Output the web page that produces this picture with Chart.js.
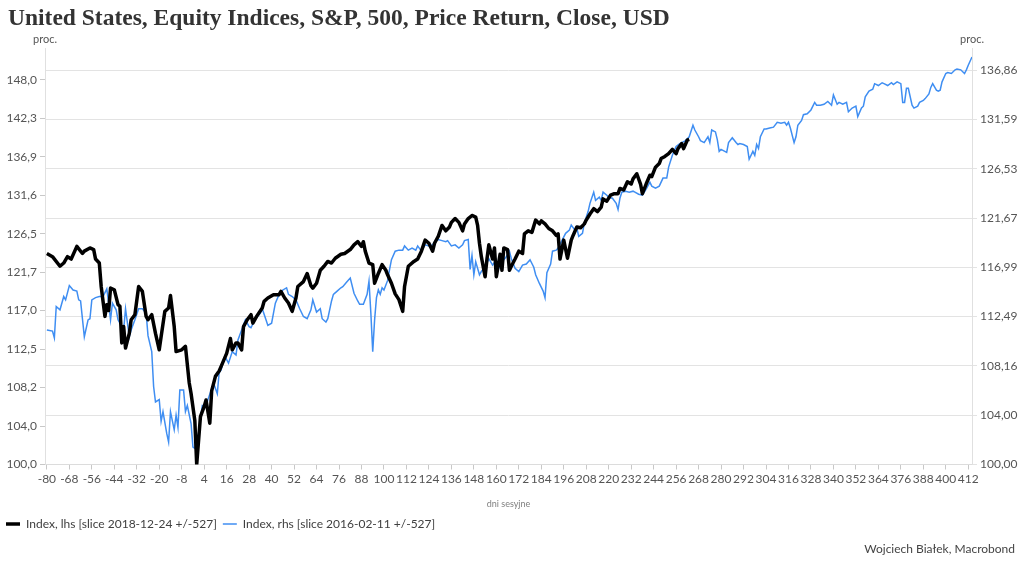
<!DOCTYPE html>
<html>
<head>
<meta charset="utf-8">
<script src="https://cdn.jsdelivr.net/npm/chart.js@4.4.1/dist/chart.umd.min.js"></script>
<style>
  html, body { margin: 0; padding: 0; background: #fff; }
  canvas { display: block; }
</style>
</head>
<body>
<canvas id="spxChart" width="1024" height="565"></canvas>
<script>
// Trading days around the slice date (x) and index values
const lhsDays = [
  -80, -77, -73, -71, -69, -67, -64, -61, -60, -57,
  -55, -54, -52, -51, -49, -48, -47, -46, -44, -42,
  -41, -40, -39, -38, -36, -35, -33, -31, -29, -27,
  -26, -24, -22, -20, -19, -17, -15, -14, -12, -11,
  -8, -6, -4, -3, -1, 0, 2, 4, 5, 7,
  8, 10, 12, 13, 16, 18, 19, 21, 22, 24,
  25, 27, 29, 30, 32, 35, 36, 38, 41, 44,
  45, 47, 49, 51, 53, 54, 57, 59, 61, 62,
  64, 66, 68, 70, 72, 74, 77, 79, 82, 84,
  86, 88, 89, 90, 92, 94, 95, 97, 99, 101,
  102, 104, 106, 108, 110, 111, 113, 116, 118, 120,
  122, 124, 126, 127, 129, 131, 133, 135, 136, 138,
  140, 142, 143, 145, 147, 149, 150, 151, 152, 154,
  155, 156, 158, 159, 160, 162, 163, 164, 166, 167,
  168, 170, 172, 174, 175, 177, 179, 181, 183, 184,
  186, 188, 190, 192, 193, 194, 196, 198, 200, 201,
  203, 205, 207, 208, 210, 212, 214, 216, 217, 219,
  221, 223, 225, 226, 228, 230, 232, 233, 235, 237,
  238, 240, 242, 243, 245, 247, 248, 250, 252, 254,
  256, 257, 259, 260, 262, 263
];
const lhsValues = [
  124.0, 123.6, 122.4, 122.8, 123.6, 123.3, 124.9, 124.0, 124.3, 124.7,
  124.5, 123.3, 122.8, 119.9, 116.3, 117.7, 117.0, 119.7, 119.5, 117.7,
  117.5, 113.2, 115.1, 112.6, 114.3, 115.9, 116.5, 119.9, 119.3, 116.3,
  115.9, 116.5, 114.3, 112.4, 113.9, 116.9, 117.3, 118.8, 115.1, 112.2,
  112.4, 112.8, 108.7, 107.5, 104.6, 100.0, 105.0, 106.1, 106.8, 104.3,
  107.8, 109.4, 110.0, 110.5, 112.0, 113.7, 112.4, 113.2, 113.2, 112.4,
  115.1, 115.9, 116.5, 115.5, 116.3, 117.3, 118.1, 118.5, 118.9, 118.9,
  119.3, 118.5, 117.9, 116.9, 118.5, 119.9, 120.5, 121.5, 120.0, 119.7,
  120.3, 121.9, 122.4, 123.0, 122.8, 123.4, 123.9, 124.0, 124.5, 125.1,
  125.5, 124.9, 125.5, 124.3, 122.8, 122.6, 120.3, 121.5, 122.6, 121.9,
  121.3, 120.3, 119.0, 118.3, 116.9, 119.9, 122.4, 123.0, 123.3, 124.3,
  125.7, 125.3, 124.3, 125.3, 126.2, 127.6, 126.9, 127.4, 128.0, 128.5,
  128.0, 126.9, 127.8, 128.5, 128.9, 128.7, 127.6, 125.3, 123.6, 121.1,
  123.3, 125.1, 123.3, 124.7, 121.1, 123.9, 121.9, 124.7, 124.5, 121.9,
  122.4, 123.3, 124.3, 124.0, 126.5, 126.9, 126.7, 128.3, 127.8, 128.2,
  127.8, 127.2, 126.9, 126.3, 126.5, 123.3, 125.7, 123.4, 125.7, 126.3,
  127.4, 127.3, 127.8, 128.3, 129.1, 129.8, 129.4, 130.0, 131.1, 130.8,
  131.6, 131.8, 131.8, 132.5, 132.3, 133.4, 133.1, 133.8, 134.5, 133.1,
  131.8, 133.1, 134.3, 134.1, 135.4, 135.9, 136.6, 136.9, 137.3, 137.9,
  137.3, 138.0, 138.7, 138.0, 139.2, 139.3
];

const rhsDays = [
  -80, -77, -76, -75, -73, -71, -70, -68, -66, -64,
  -63, -62, -60, -58, -57, -56, -54, -52, -50, -48,
  -47, -46, -45, -43, -42, -39, -38, -36, -35, -33,
  -31, -29, -27, -26, -24, -23, -22, -20, -19, -18,
  -16, -15, -14, -12, -11, -10, -9, -7, -6, -5,
  -3, -2, -1, 1, 3, 5, 6, 9, 11, 12,
  13, 15, 17, 19, 21, 22, 24, 26, 28, 29,
  31, 34, 35, 37, 38, 40, 42, 44, 46, 48,
  49, 51, 53, 55, 57, 59, 61, 62, 64, 66,
  67, 69, 70, 72, 73, 75, 77, 78, 80, 82,
  84, 86, 87, 89, 91, 92, 93, 94, 95, 96,
  97, 98, 99, 100, 102, 103, 104, 106, 108, 110,
  111, 113, 115, 117, 118, 120, 122, 124, 126, 127,
  129, 131, 133, 134, 136, 138, 140, 142, 143, 145,
  146, 147, 148, 149, 151, 152, 154, 156, 158, 160,
  161, 163, 165, 167, 168, 170, 172, 174, 176, 178,
  180, 181, 183, 185, 186, 187, 189, 190, 192, 193,
  195, 197, 199, 200, 202, 203, 204, 206, 207, 209,
  210, 212, 213, 215, 216, 217, 219, 220, 222, 224,
  225, 226, 227, 229, 231, 233, 234, 236, 238, 240,
  242, 243, 245, 247, 249, 251, 252, 254, 256, 258,
  259, 261, 263, 265, 266, 268, 269, 271, 273, 274,
  275, 277, 278, 279, 280, 282, 283, 284, 286, 288,
  289, 290, 292, 294, 295, 297, 298, 299, 300, 301,
  303, 304, 306, 308, 310, 312, 314, 315, 316, 317,
  319, 320, 321, 323, 324, 326, 328, 330, 331, 333,
  335, 337, 339, 340, 342, 343, 345, 347, 348, 350,
  352, 353, 355, 356, 357, 359, 361, 362, 364, 366,
  367, 369, 371, 372, 374, 376, 377, 378, 379, 380,
  382, 383, 385, 386, 388, 389, 391, 392, 393, 395,
  396, 397, 398, 400, 401, 403, 405, 406, 408, 410,
  411, 412, 414
];
const rhsValues = [
  111.3, 111.2, 110.6, 113.4, 113.1, 114.3, 114.0, 115.3, 114.9, 114.8,
  114.0, 113.9, 110.7, 112.2, 112.3, 114.0, 114.2, 114.3, 114.3, 115.0,
  113.7, 112.2, 113.7, 113.1, 112.2, 111.3, 113.2, 110.7, 111.3, 112.2,
  113.2, 113.2, 112.8, 110.8, 109.4, 106.4, 105.1, 105.3, 103.5, 104.3,
  102.5, 101.8, 104.3, 102.8, 104.0, 103.0, 106.1, 106.1, 104.3, 104.8,
  103.3, 101.4, 101.3, 102.5, 104.8, 104.7, 105.3, 106.7, 105.8, 107.6,
  107.8, 109.0, 108.4, 109.4, 109.1, 110.4, 111.3, 112.2, 111.6, 111.5,
  112.2, 112.8, 113.2, 112.2, 111.7, 111.9, 113.7, 114.5, 114.9, 115.1,
  114.5, 114.3, 114.0, 113.2, 112.5, 112.3, 113.1, 114.0, 112.9, 113.2,
  112.3, 112.0, 112.3, 113.9, 114.5, 114.8, 115.1, 115.2, 115.6, 116.0,
  114.6, 113.9, 113.6, 113.6, 114.5, 115.7, 112.8, 109.4, 112.2, 114.2,
  114.9, 114.5, 115.1, 114.9, 115.8, 116.8, 117.7, 118.5, 118.6, 118.6,
  119.0, 118.6, 118.8, 118.6, 119.0, 118.5, 119.1, 119.0, 119.1, 119.4,
  119.6, 119.5, 119.4, 119.5, 119.0, 119.1, 118.8, 119.1, 119.5, 119.6,
  116.8, 118.1, 116.3, 117.5, 116.3, 116.6, 117.0, 117.8, 117.2, 117.7,
  116.8, 117.5, 117.9, 118.5, 117.8, 116.9, 116.6, 117.2, 117.3, 117.7,
  117.0, 116.3, 115.5, 114.8, 114.2, 116.5, 117.3, 118.5, 118.6, 118.8,
  119.5, 120.2, 120.5, 121.0, 120.5, 120.7, 119.9, 120.2, 121.2, 122.3,
  123.1, 124.2, 123.4, 123.7, 123.4, 124.2, 123.9, 123.7, 123.6, 123.1,
  122.5, 123.6, 124.2, 124.3, 124.2, 124.3, 124.2, 124.0, 123.9, 124.5,
  125.2, 124.8, 124.6, 124.8, 125.6, 125.6, 126.7, 127.9, 128.8, 129.1,
  129.2, 129.4, 129.8, 131.0, 130.5, 129.8, 129.4, 129.2, 129.8, 129.2,
  130.5, 130.3, 129.5, 128.3, 128.5, 128.3, 128.2, 129.2, 129.7, 129.2,
  129.0, 129.1, 129.0, 128.8, 127.5, 128.3, 127.9, 129.0, 128.6, 129.8,
  130.6, 130.6, 130.7, 130.8, 131.3, 131.2, 131.3, 131.0, 131.3, 130.7,
  129.2, 129.8, 131.0, 131.5, 132.1, 132.2, 132.6, 133.4, 133.1, 133.1,
  133.2, 133.5, 133.1, 134.2, 133.2, 133.4, 133.2, 133.4, 132.4, 132.8,
  133.0, 131.9, 132.8, 133.0, 134.0, 134.6, 134.8, 135.4, 135.2, 135.5,
  135.4, 135.2, 135.5, 135.3, 135.6, 135.4, 133.4, 133.4, 134.9, 134.9,
  133.1, 132.8, 133.0, 133.4, 133.6, 133.8, 134.3, 135.0, 135.4, 134.7,
  134.6, 134.7, 135.6, 136.5, 136.6, 136.5, 136.9, 137.0, 136.9, 136.5,
  136.9, 137.4, 138.3
];

// Axis ticks
const xTickValues = [
  -80, -68, -56, -44, -32, -20, -8, 4, 16, 28, 40, 52, 64, 76,
  88, 100, 112, 124, 136, 148, 160, 172, 184, 196, 208, 220, 232, 244,
  256, 268, 280, 292, 304, 316, 328, 340, 352, 364, 376, 388, 400, 412
];
const logTickValues = [100, 104, 108.16, 112.49, 116.99, 121.67, 126.53, 131.59, 136.86, 142.33, 148.02];

const titleText = 'United States, Equity Indices, S&P, 500, Price Return, Close, USD';
const sourceText = 'Wojciech Białek, Macrobond';
const lhsLabel = 'Index, lhs [slice 2018-12-24 +/-527]';
const rhsLabel = 'Index, rhs [slice 2016-02-11 +/-527]';

const toPoints = (days, values) => days.map((d, i) => ({ x: d, y: values[i] }));
const comma = (v, digits) => v.toFixed(digits).replace('.', ',');

// Title, "proc." labels and source line
const chartText = {
  id: 'chartText',
  beforeDraw(chart) {
    const ctx = chart.ctx;
    ctx.save();
    ctx.fillStyle = '#fff';
    ctx.fillRect(0, 0, chart.width, chart.height);
    ctx.restore();
  },
  afterDraw(chart) {
    const { ctx, scales } = chart;
    ctx.save();
    ctx.fillStyle = '#333';
    ctx.font = 'bold 23.5px "Liberation Serif"';
    ctx.textAlign = 'left';
    ctx.textBaseline = 'alphabetic';
    ctx.fillText(titleText, 8, 25);

    ctx.font = '11px Lato';
    ctx.fillStyle = '#555';
    ctx.textAlign = 'center';
    ctx.textBaseline = 'middle';
    ctx.fillText('proc.', scales.yLeft.right, 39);
    ctx.fillText('proc.', scales.yRight.left, 39);

    ctx.font = '12px Lato';
    ctx.fillStyle = '#444';
    ctx.textAlign = 'right';
    ctx.fillText(sourceText, chart.width - 9, 549);
    ctx.restore();
  }
};

const tickFont = { family: 'Lato', size: 12 };

new Chart(document.getElementById('spxChart'), {
  type: 'line',
  data: {
    datasets: [
      {
        label: lhsLabel,
        data: toPoints(lhsDays, lhsValues),
        yAxisID: 'yLeft',
        borderColor: '#000',
        borderWidth: 3.5,
        borderJoinStyle: 'round',
        pointRadius: 0,
        tension: 0
      },
      {
        label: rhsLabel,
        data: toPoints(rhsDays, rhsValues),
        yAxisID: 'yRight',
        borderColor: '#3f8ef2',
        borderWidth: 1.5,
        pointRadius: 0,
        tension: 0
      }
    ]
  },
  options: {
    responsive: false,
    animation: false,
    devicePixelRatio: 1,
    layout: { padding: { top: 48, left: 0, right: 0, bottom: 25 } },
    plugins: {
      title: { display: false },
      tooltip: { enabled: false },
      legend: {
        position: 'bottom',
        align: 'start',
        labels: {
          usePointStyle: true,
          pointStyle: 'line',
          pointStyleWidth: 14,
          padding: 6,
          color: '#404040',
          font: tickFont
        }
      }
    },
    scales: {
      x: {
        type: 'linear',
        min: -81,
        max: 414,
        afterBuildTicks: s => { s.ticks = xTickValues.map(v => ({ value: v })); },
        afterFit: s => { s.height = 47.5; },
        grid: { drawOnChartArea: false, tickLength: 5, color: '#c8c8c8' },
        border: { color: '#dcdcdc' },
        ticks: {
          autoSkip: false, maxRotation: 0, minRotation: 0, padding: 2,
          color: '#555', font: tickFont,
          callback: v => String(v)
        },
        title: {
          display: true, text: 'dni sesyjne', color: '#808080',
          font: { family: 'Lato', size: 9 }, padding: { top: 0, bottom: 3 }
        }
      },
      yLeft: {
        type: 'logarithmic',
        position: 'left',
        min: 100,
        max: 152.9,
        afterBuildTicks: s => { s.ticks = logTickValues.filter(v => v <= s.max).map(v => ({ value: v })); },
        afterFit: s => { s.width = 45; },
        grid: { drawOnChartArea: false, tickLength: 5, color: '#c8c8c8' },
        border: { color: '#e0e0e0' },
        ticks: { padding: 3, color: '#555', font: tickFont, callback: v => comma(v, 1) }
      },
      yRight: {
        type: 'logarithmic',
        position: 'right',
        min: 100,
        max: 139.3,
        afterBuildTicks: s => { s.ticks = logTickValues.filter(v => v <= s.max).map(v => ({ value: v })); },
        afterFit: s => { s.width = 52; },
        grid: { drawOnChartArea: true, tickLength: 5, color: '#e3e3e3' },
        border: { color: '#e0e0e0' },
        ticks: { padding: 3, color: '#555', font: tickFont, callback: v => comma(v, 2) }
      }
    }
  },
  plugins: [chartText]
});
</script>
</body>
</html>
